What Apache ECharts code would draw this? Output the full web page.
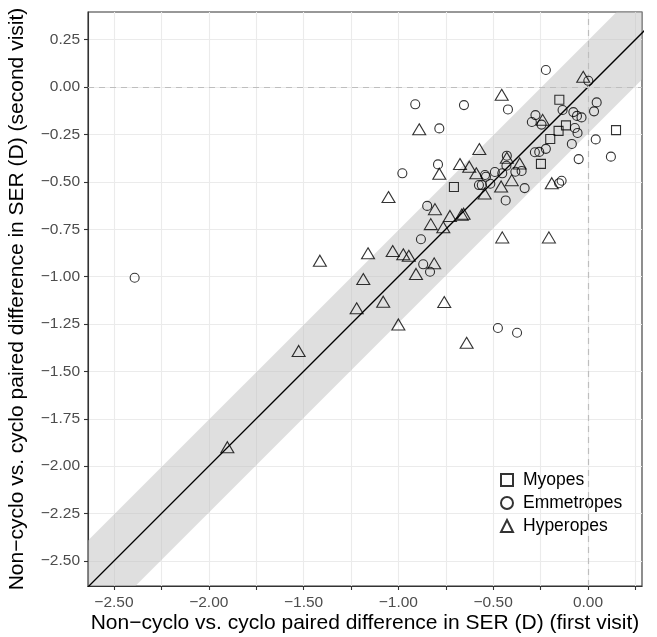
<!DOCTYPE html>
<html><head><meta charset="utf-8">
<script src="https://cdn.jsdelivr.net/npm/echarts@6/dist/echarts.min.js"></script>
<style>html,body{margin:0;padding:0;background:#fff}#c{width:657px;height:637px}</style>
</head><body><div id="c"></div>
<script>
// ---- data ----
const myopes = [
  [-0.151,-0.067],[-0.116,-0.202],[-0.155,-0.231],[0.148,-0.227],
  [-0.199,-0.274],[-0.248,-0.405],[-0.707,-0.527]
];
const emmetropes = [
  [-0.222,0.090],[0.002,0.033],[-0.911,-0.091],[-0.654,-0.095],[-0.422,-0.118],
  [0.046,-0.081],[-0.134,-0.121],[0.032,-0.128],[-0.077,-0.132],[-0.058,-0.152],
  [-0.034,-0.160],[-0.277,-0.148],[-0.296,-0.184],[-0.245,-0.198],[-0.069,-0.216],
  [-0.055,-0.242],[-0.784,-0.218],[0.041,-0.276],[-0.085,-0.300],[-0.049,-0.380],
  [0.121,-0.367],[-0.222,-0.326],[-0.257,-0.342],[-0.280,-0.344],[-0.428,-0.362],
  [-0.430,-0.415],[-0.350,-0.443],[-0.383,-0.447],[-0.491,-0.448],[-0.452,-0.455],
  [-0.543,-0.464],[-0.538,-0.473],[-0.575,-0.517],[-0.560,-0.517],[-0.515,-0.510],
  [-0.334,-0.533],[-0.139,-0.494],[-0.152,-0.507],[-0.434,-0.598],[-0.979,-0.455],
  [-0.791,-0.408],[-0.848,-0.627],[-0.881,-0.803],[-0.869,-0.935],[-0.833,-0.974],
  [-0.475,-1.271],[-0.374,-1.296],[-2.391,-1.006]
];
const hyperopes = [
  [-0.025,0.054],[-0.455,-0.041],[-0.890,-0.223],[-0.239,-0.173],[-0.573,-0.327],
  [-0.428,-0.373],[-0.360,-0.403],[-0.675,-0.406],[-0.626,-0.420],[-0.784,-0.457],
  [-0.589,-0.455],[-0.402,-0.491],[-0.191,-0.507],[-0.458,-0.524],[-0.545,-0.562],
  [-1.052,-0.580],[-0.807,-0.644],[-0.728,-0.680],[-0.666,-0.673],[-0.656,-0.668],
  [-0.829,-0.723],[-0.763,-0.740],[-0.452,-0.793],[-0.206,-0.793],[-1.030,-0.865],
  [-0.974,-0.882],[-0.945,-0.890],[-0.811,-0.930],[-0.907,-0.986],[-1.080,-1.132],
  [-0.758,-1.134],[-1.000,-1.252],[-0.640,-1.349],[-1.414,-0.916],[-1.160,-0.877],
  [-1.185,-1.013],[-1.220,-1.167],[-1.526,-1.392],[-1.902,-1.900]
];
const seriesNames = ['Myopes','Emmetropes','Hyperopes'];
const xTicks = [-2.5,-2.25,-2,-1.75,-1.5,-1.25,-1,-0.75,-0.5,-0.25,0,0.25];
const xLabels = [-2.5,-2,-1.5,-1,-0.5,0];
const yTicks = [0.25,0,-0.25,-0.5,-0.75,-1,-1.25,-1.5,-1.75,-2,-2.25,-2.5];
const xRange = [-2.637, 0.285];
const yRange = [-2.632, 0.396];
const bandHalfWidth = 0.245;
const identityExtent = [-3, 1];
const xTitle = 'Non\u2212cyclo vs. cyclo paired difference in SER (D) (first visit)';
const yTitle = 'Non\u2212cyclo vs. cyclo paired difference in SER (D) (second visit)';

// ---- chart ----
const FONT = '"Liberation Sans", Arial, Helvetica, sans-serif';
const fmt = v => (v < 0 ? '\u2212' : '') + Math.abs(v).toFixed(2);
const chart = echarts.init(document.getElementById('c'), null, {renderer:'canvas'});
const hollow = {color:'rgba(0,0,0,0)', borderColor:'#000', borderWidth:1.1};
const gridLine = {show:true, lineStyle:{color:'#EBEBEB', width:1.1}};
const GL = 88, GR = 15, GT = 12, GB = 51;

chart.setOption({
  animation:false,
  backgroundColor:'#fff',
  textStyle:{fontFamily:FONT},
  grid:{left:GL, right:GR, top:GT, bottom:GB, show:true, borderColor:'#333', borderWidth:1.1, backgroundColor:'rgba(0,0,0,0)'},
  xAxis:{
    type:'value', min:xRange[0], max:xRange[1],
    axisLine:{show:true, onZero:false, lineStyle:{color:'#333', width:1.1}},
    axisTick:{show:true, length:4, customValues:xTicks, lineStyle:{color:'#333', width:1.1}},
    axisLabel:{customValues:xLabels, formatter:fmt, color:'#4D4D4D', fontSize:15.5, margin:9, fontFamily:FONT},
    splitLine:gridLine
  },
  yAxis:{
    type:'value', min:yRange[0], max:yRange[1],
    axisLine:{show:true, onZero:false, lineStyle:{color:'#333', width:1.1}},
    axisTick:{show:true, length:4, customValues:yTicks, lineStyle:{color:'#333', width:1.1}},
    axisLabel:{customValues:yTicks, formatter:fmt, color:'#4D4D4D', fontSize:15.5, margin:8, fontFamily:FONT},
    splitLine:gridLine
  },
  legend:{
    orient:'vertical', left:495, top:466, itemGap:5, itemWidth:12, itemHeight:12,
    textStyle:{fontSize:17.5, color:'#000', fontFamily:FONT, lineHeight:17, padding:[0,0,0,5]},
    data:seriesNames, selectedMode:false
  },
  graphic:[
    {type:'text', x:(GL + 657 - GR)/2, y:623, style:{text:xTitle, font:'21px '+FONT, fill:'#000', textAlign:'center', textVerticalAlign:'middle'}},
    {type:'text', x:17, y:(GT + 637 - GB)/2, rotation:Math.PI/2, style:{text:yTitle, font:'21px '+FONT, fill:'#000', textAlign:'center', textVerticalAlign:'middle'}}
  ],
  series:[
    {
      type:'custom', name:'band', silent:true, clip:true, z:1,
      dimensions:['x0','x1','h'], encode:{x:[0,1], y:[2]},
      data:[[identityExtent[0], identityExtent[1], bandHalfWidth]],
      renderItem:(params, api)=>{
        const x0 = api.value(0), x1 = api.value(1), h = api.value(2);
        const pts = [api.coord([x0,x0-h]), api.coord([x1,x1-h]), api.coord([x1,x1+h]), api.coord([x0,x0+h])];
        return {type:'polygon', shape:{points:pts}, style:{fill:'rgba(191,191,191,0.5)'}};
      }
    },
    {
      type:'line', name:'identity', silent:true, z:2, clip:true, showSymbol:false,
      data:[[identityExtent[0],identityExtent[0]],[identityExtent[1],identityExtent[1]]],
      lineStyle:{color:'#000', width:1.3},
      markLine:{silent:true, symbol:['none','none'], label:{show:false},
        lineStyle:{color:'#BEBEBE', width:1.2, type:[6,5]},
        emphasis:{disabled:true},
        data:[{xAxis:0},{yAxis:0}]}
    },
    {type:'scatter', name:seriesNames[0], z:5, silent:true, symbol:'rect', symbolSize:9, itemStyle:hollow, data:myopes},
    {type:'scatter', name:seriesNames[1], z:5, silent:true, symbol:'circle', symbolSize:9, itemStyle:hollow, data:emmetropes},
    {type:'scatter', name:seriesNames[2], z:5, silent:true, symbol:'triangle', symbolSize:[13,11], itemStyle:hollow, data:hyperopes}
  ]
});
</script></body></html>
